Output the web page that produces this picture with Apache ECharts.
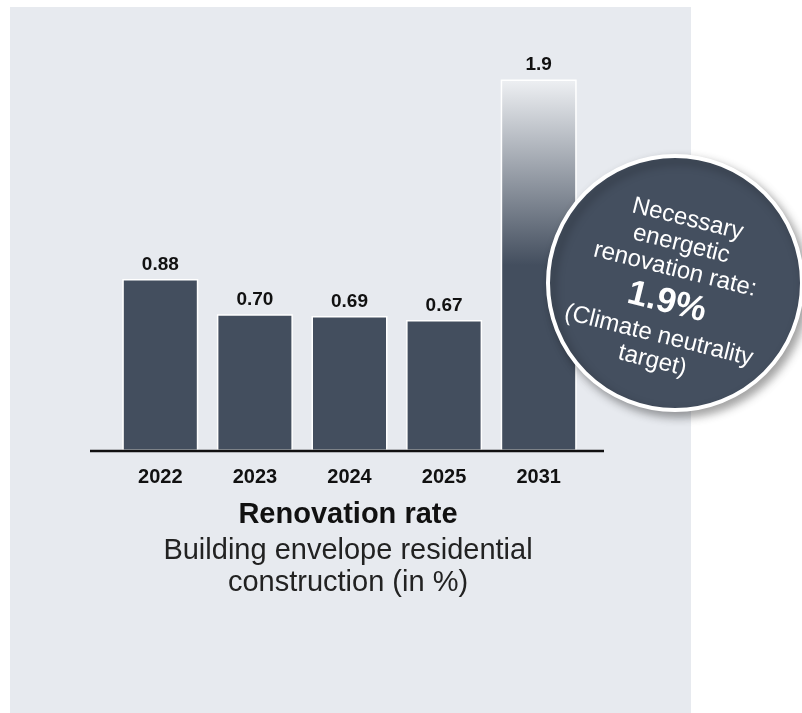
<!DOCTYPE html>
<html>
<head>
<meta charset="utf-8">
<script src="https://cdn.jsdelivr.net/npm/echarts@6/dist/echarts.min.js"></script>
<style>
  html, body { margin: 0; padding: 0; background: #ffffff; }
  #chart { width: 802px; height: 713px; }
</style>
</head>
<body>
<div id="chart"></div>
<script>
// Renovation rate of the building envelope, residential construction (in %)
const years = ['2022', '2023', '2024', '2025', '2031'];
const rates = [0.88, 0.70, 0.69, 0.67, 1.9];
const labels = ['0.88', '0.70', '0.69', '0.67', '1.9'];

const titleText = 'Renovation rate';
const subtitleLines = ['Building envelope residential', 'construction (in %)'];
const badgeLines = ['Necessary', 'energetic', 'renovation rate:', '1.9%', '(Climate neutrality', 'target)'];

const FONT = '"Liberation Sans", Arial, Helvetica, sans-serif';
const BAR = '#434e5e';

const chart = echarts.init(document.getElementById('chart'), null, { renderer: 'canvas' });

const barData = rates.map((v, i) => {
  const item = { value: v };
  if (i === rates.length - 1) {
    // target year drawn with a fade from light to dark
    item.itemStyle = {
      color: new echarts.graphic.LinearGradient(0, 0, 0, 1, [
        { offset: 0, color: '#eef0f3' },
        { offset: 0.5, color: BAR },
        { offset: 1, color: BAR }
      ])
    };
  }
  return item;
});

const option = {
  backgroundColor: '#ffffff',
  animation: false,
  grid: { left: 113, right: 216, top: 60, bottom: 262 },
  xAxis: {
    type: 'category',
    data: years,
    axisLine: { show: false },
    axisTick: { show: false },
    axisLabel: { color: '#111', fontFamily: FONT, fontWeight: 'bold', fontSize: 20, margin: 16 }
  },
  yAxis: {
    type: 'value', min: 0, max: 2,
    show: false,
    splitLine: { show: false }
  },
  series: [{
    type: 'bar',
    data: barData,
    barWidth: 76,
    itemStyle: { color: BAR, borderColor: '#ffffff', borderWidth: 1.5 },
    label: {
      show: true, position: 'top', distance: 5,
      color: '#111', fontFamily: FONT, fontWeight: 'bold', fontSize: 19,
      formatter: p => labels[p.dataIndex]
    },
    z: 3
  }]
};

chart.setOption(option);

// decorations: panel, baseline, caption and badge
const baseY = chart.convertToPixel({ yAxisIndex: 0 }, 0);
const badgeText = badgeLines.map((t, i) => {
  const offs = [-73, -47, -21, 13, 47, 73];
  const big = i === 3;
  return {
    type: 'text',
    z: 30,
    x: 0, y: offs[i],
    style: {
      text: t,
      fill: '#ffffff',
      font: (big ? 'bold 35px ' : '24px ') + FONT,
      textAlign: 'center',
      textVerticalAlign: 'middle'
    }
  };
});

chart.setOption({
  graphic: [
    {
      type: 'rect', z: -10, silent: true,
      shape: { x: 10, y: 7, width: 681, height: 706 },
      style: { fill: '#e7eaef' }
    },
    {
      type: 'line', z: 10, silent: true,
      shape: { x1: 90, y1: baseY, x2: 604, y2: baseY },
      style: { stroke: '#111111', lineWidth: 2.5 }
    },
    {
      type: 'text', z: 10,
      x: 348, y: 515,
      style: { text: titleText, fill: '#111', font: 'bold 29px ' + FONT, textAlign: 'center', textVerticalAlign: 'middle' }
    },
    {
      type: 'text', z: 10,
      x: 348, y: 551,
      style: { text: subtitleLines[0], fill: '#222', font: '29px ' + FONT, textAlign: 'center', textVerticalAlign: 'middle' }
    },
    {
      type: 'text', z: 10,
      x: 348, y: 583,
      style: { text: subtitleLines[1], fill: '#222', font: '29px ' + FONT, textAlign: 'center', textVerticalAlign: 'middle' }
    },
    {
      type: 'circle', z: 20,
      shape: { cx: 675, cy: 283, r: 127 },
      style: {
        fill: '#444f5f', stroke: '#ffffff', lineWidth: 4,
        shadowBlur: 10, shadowOffsetX: 4, shadowOffsetY: 5, shadowColor: 'rgba(0,0,0,0.35)'
      }
    },
    {
      type: 'group', z: 30,
      x: 670, y: 290,
      rotation: -14 * Math.PI / 180,
      children: badgeText
    }
  ]
});
</script>
</body>
</html>
